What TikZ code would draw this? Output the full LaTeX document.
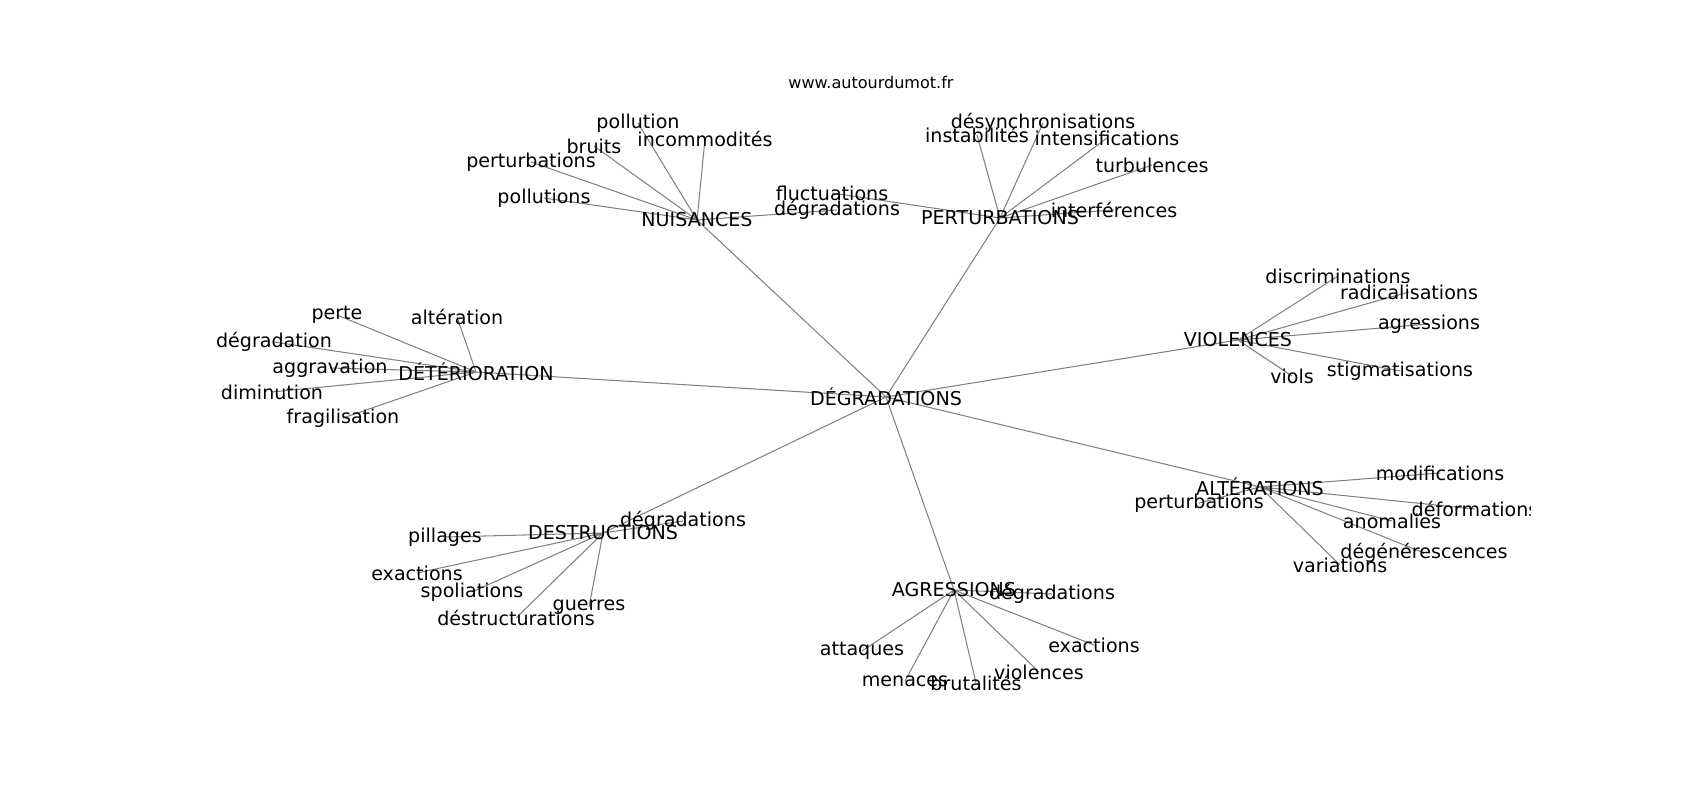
\documentclass[tikz,border=0pt]{standalone}
\usepackage{fontspec}
\setmainfont{DejaVu Sans}
\usepackage{tikz}
\usetikzlibrary{backgrounds}
\definecolor{linkgray}{gray}{0.5}

\begin{document}
\begin{tikzpicture}[x=0.0254cm, y=-0.0254cm,
        word/.style={inner sep=0pt, font=\fontsize{13.8}{16}\selectfont},
        link/.style={draw=linkgray, line width=0.75pt}]
        \useasboundingbox (0,0) rectangle (1700,800);
        \node[inner sep=0pt, font=\fontsize{11.6}{14}\selectfont] (site) at (871,83) {www.autourdumot.fr};

        % centre et branches
        \node[word] (deg) at (886,397) {DÉGRADATIONS};
        \node[word] (nui) at (697,220) {NUISANCES};
        \node[word] (per) at (1000,218) {PERTURBATIONS};
        \node[word] (det) at (476,372) {DÉTÉRIORATION};
        \node[word] (vio) at (1238,340) {VIOLENCES};
        \node[word] (alt) at (1260,487) {ALTÉRATIONS};
        \node[word] (des) at (603,533) {DESTRUCTIONS};
        \node[word] (agr) at (954,590) {AGRESSIONS};

        % NUISANCES
        \node[word] (nui1) at (638,123) {pollution};
        \node[word] (nui2) at (594,146) {bruits};
        \node[word] (nui3) at (705,139) {incommodités};
        \node[word] (nui4) at (531,162) {perturbations};
        \node[word] (nui5) at (544,198) {pollutions};
        \node[word] (nui6) at (837,210) {dégradations};

        % PERTURBATIONS
        \node[word] (per1) at (1043,123) {désynchronisations};
        \node[word] (per2) at (977,135) {instabilités};
        \node[word] (per3) at (1107,138) {intensifications};
        \node[word] (per4) at (1152,165) {turbulences};
        \node[word] (per5) at (1114,210) {interférences};
        \node[word] (per6) at (832,193) {fluctuations};

        % DÉTÉRIORATION
        \node[word] (det1) at (337,315) {perte};
        \node[word] (det2) at (457,317) {altération};
        \node[word] (det3) at (274,342) {dégradation};
        \node[word] (det4) at (330,368) {aggravation};
        \node[word] (det5) at (272,392) {diminution};
        \node[word] (det6) at (343,418) {fragilisation};

        % VIOLENCES
        \node[word] (vio1) at (1338,276) {discriminations};
        \node[word] (vio2) at (1409,292) {radicalisations};
        \node[word] (vio3) at (1429,324) {agressions};
        \node[word] (vio4) at (1400,371) {stigmatisations};
        \node[word] (vio5) at (1292,376) {viols};

        % ALTÉRATIONS
        \node[word] (alt1) at (1440,473) {modifications};
        \node[word] (alt2) at (1199,503) {perturbations};
        \begin{scope}
            \clip (0,0) rectangle (1530,800);
            \node[word] (alt3) at (1475,509) {déformations};
        \end{scope}
        \node[word] (alt4) at (1392,521) {anomalies};
        \node[word] (alt5) at (1424,553) {dégénérescences};
        \node[word] (alt6) at (1340,565) {variations};

        % DESTRUCTIONS
        \node[word] (des1) at (683,521) {dégradations};
        \node[word] (des2) at (445,537) {pillages};
        \node[word] (des3) at (417,573) {exactions};
        \node[word] (des4) at (472,592) {spoliations};
        \node[word] (des5) at (516,618) {déstructurations};
        \node[word] (des6) at (589,607) {guerres};

        % AGRESSIONS
        \node[word] (agr1) at (1052,594) {dégradations};
        \node[word] (agr2) at (1094,645) {exactions};
        \node[word] (agr3) at (1039,672) {violences};
        \node[word] (agr4) at (976,683) {brutalités};
        \node[word] (agr5) at (905,681) {menaces};
        \node[word] (agr6) at (862,651) {attaques};

        \begin{scope}[on background layer]
            \draw[link] (deg.center) -- (nui.center) (deg.center) -- (per.center)
                        (deg.center) -- (det.center) (deg.center) -- (vio.center)
                        (deg.center) -- (alt.center) (deg.center) -- (des.center)
                        (deg.center) -- (agr.center);
            \draw[link] (nui.center) -- (nui1.center) (nui.center) -- (nui2.center)
                        (nui.center) -- (nui3.center) (nui.center) -- (nui4.center)
                        (nui.center) -- (nui5.center) (nui.center) -- (nui6.center);
            \draw[link] (per.center) -- (per1.center) (per.center) -- (per2.center)
                        (per.center) -- (per3.center) (per.center) -- (per4.center)
                        (per.center) -- (per5.center) (per.center) -- (per6.center);
            \draw[link] (det.center) -- (det1.center) (det.center) -- (det2.center)
                        (det.center) -- (det3.center) (det.center) -- (det4.center)
                        (det.center) -- (det5.center) (det.center) -- (det6.center);
            \draw[link] (vio.center) -- (vio1.center) (vio.center) -- (vio2.center)
                        (vio.center) -- (vio3.center) (vio.center) -- (vio4.center)
                        (vio.center) -- (vio5.center);
            \draw[link] (alt.center) -- (alt1.center) (alt.center) -- (alt2.center)
                        (alt.center) -- (alt3.center) (alt.center) -- (alt4.center)
                        (alt.center) -- (alt5.center) (alt.center) -- (alt6.center);
            \draw[link] (des.center) -- (des1.center) (des.center) -- (des2.center)
                        (des.center) -- (des3.center) (des.center) -- (des4.center)
                        (des.center) -- (des5.center) (des.center) -- (des6.center);
            \draw[link] (agr.center) -- (agr1.center) (agr.center) -- (agr2.center)
                        (agr.center) -- (agr3.center) (agr.center) -- (agr4.center)
                        (agr.center) -- (agr5.center) (agr.center) -- (agr6.center);
        \end{scope}
    \end{tikzpicture}
\end{document}
